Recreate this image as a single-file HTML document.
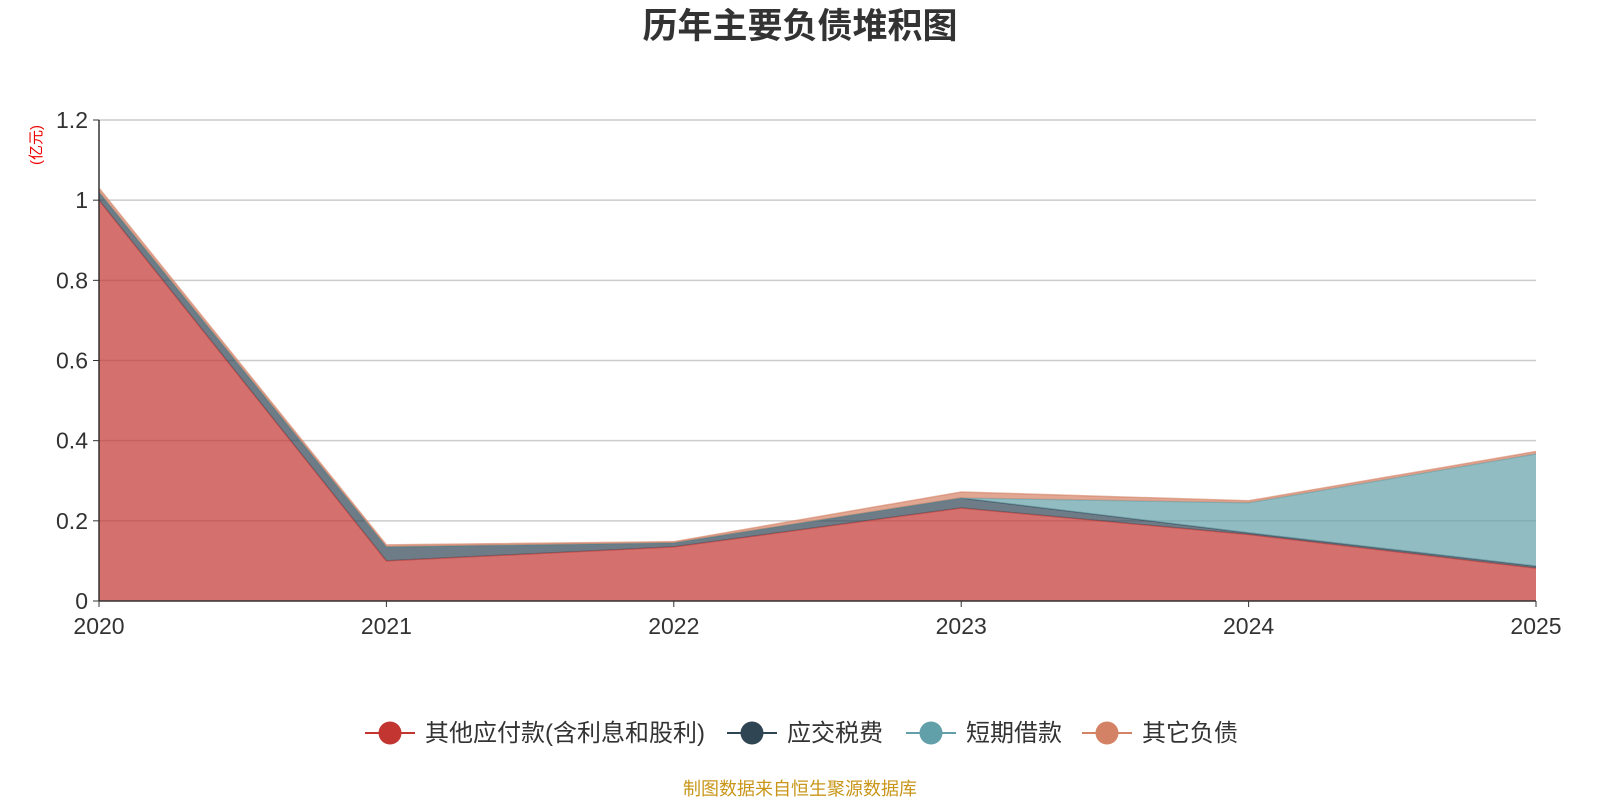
<!DOCTYPE html>
<html><head><meta charset="utf-8"><style>
body{margin:0;background:#fff;font-family:"Liberation Sans","Noto Sans CJK SC",sans-serif}
</style></head><body>
<svg id="c" width="1600" height="800" xmlns="http://www.w3.org/2000/svg">
<text x="800" y="38" text-anchor="middle" font-size="35" font-weight="bold" fill="#333" font-family="Liberation Sans,Noto Sans CJK SC,sans-serif">历年主要负债堆积图</text>
<text transform="translate(41,145) rotate(-90)" text-anchor="middle" font-size="15" fill="#e00" font-family="Liberation Sans,Noto Sans CJK SC,sans-serif">(亿元)</text>
<g id="grid"></g><g id="areas"></g><g id="axes"></g><g id="legend"></g>
<text x="800" y="795" text-anchor="middle" font-size="18" fill="#c9961a" font-family="Liberation Sans,Noto Sans CJK SC,sans-serif">制图数据来自恒生聚源数据库</text>
</svg>
<script>
const categories=["2020","2021","2022","2023","2024","2025"];
const seriesNames=["其他应付款(含利息和股利)","应交税费","短期借款","其它负债"];
const otherPayables=[1.0,0.10,0.135,0.232,0.166,0.082];
const taxes=[0.02,0.035,0.01,0.025,0.004,0.005];
const shortLoans=[0,0,0,0,0.075,0.28];
const otherLiab=[0.01,0.005,0.003,0.015,0.005,0.006];
const yTicks=[0,0.2,0.4,0.6,0.8,1,1.2];
const yTickLabels=["0","0.2","0.4","0.6","0.8","1","1.2"];
const colors=["#c23531","#2f4554","#61a0a8","#d48265"];
const NS="http://www.w3.org/2000/svg";
const X0=99,X1=1536,Y0=601,Y1=120,YMAX=1.2;
const xs=i=>X0+(X1-X0)*i/(categories.length-1);
const ys=v=>Y0-(Y0-Y1)*v/YMAX;
function mk(t,a,p){const e=document.createElementNS(NS,t);for(const k in a)e.setAttribute(k,a[k]);p.appendChild(e);return e;}
const grid=document.getElementById('grid'),axes=document.getElementById('axes'),areas=document.getElementById('areas'),leg=document.getElementById('legend');
yTicks.forEach((t,i)=>{
 if(t>0){const l=mk('line',{x1:X0,x2:X1,y1:ys(t),y2:ys(t),stroke:'#ccc','stroke-width':1.5},grid);
 
 }
 const tk=mk('line',{x1:X0-6,x2:X0,y1:ys(t),y2:ys(t),stroke:'#333'},axes);
 
 
 const tx=mk('text',{x:X0-11,y:ys(t)+8,'text-anchor':'end','font-size':23,fill:'#333'},axes);
 tx.textContent=yTickLabels[i];
 
 
});
const all=[otherPayables,taxes,shortLoans,otherLiab];
let base=categories.map(()=>0);
all.forEach((s,si)=>{
 const top=s.map((v,i)=>base[i]+v);
 let d='M'+categories.map((c,i)=>xs(i)+','+ys(top[i])).join(' L');
 for(let i=categories.length-1;i>=0;i--)d+=' L'+xs(i)+','+ys(base[i]);
 d+='Z';
 const p=mk('path',{d:d,fill:colors[si],'fill-opacity':0.7},areas);
 
 
 const ln=mk('polyline',{points:categories.map((c,i)=>xs(i)+','+ys(top[i])).join(' '),fill:'none',stroke:colors[si],'stroke-width':1.5,'stroke-opacity':0.6},areas);
 
 
 base=top;
});
const ya=mk('line',{x1:X0,x2:X0,y1:Y1,y2:Y0,stroke:'#333','stroke-width':1.5},axes);


const xa=mk('line',{x1:X0,x2:X1,y1:Y0,y2:Y0,stroke:'#333','stroke-width':1.5},axes);


categories.forEach((c,i)=>{
 const tk=mk('line',{x1:xs(i),x2:xs(i),y1:Y0,y2:Y0+6,stroke:'#333'},axes);
 
 
 const t=mk('text',{x:xs(i),y:Y0+33,'text-anchor':'middle','font-size':23,fill:'#333'},axes);
 t.textContent=c;
 
 
});
const lx=[365,727,906,1082];
seriesNames.forEach((n,i)=>{
 const g=mk('g',{},leg);
 
 
 mk('line',{x1:lx[i],x2:lx[i]+50,y1:733,y2:733,stroke:colors[i],'stroke-width':2},g);
 mk('circle',{cx:lx[i]+25,cy:733,r:11.5,fill:colors[i]},g);
 const t=mk('text',{x:lx[i]+60,y:741,'font-size':24,fill:'#333'},g);
 t.textContent=n;
});
</script>
</body></html>
